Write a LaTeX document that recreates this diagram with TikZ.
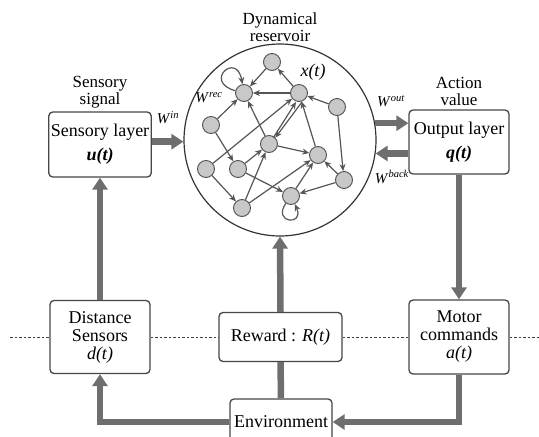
\documentclass[tikz,border=0pt]{standalone}
\usepackage{fontspec}
\setmainfont{Liberation Serif}
\usepackage{tikz}
\usetikzlibrary{arrows.meta,positioning,calc}
\definecolor{boxgray}{RGB}{70,70,70}
\definecolor{fatgray}{RGB}{110,110,110}
\definecolor{unitgray}{RGB}{200,200,200}
\definecolor{unitline}{RGB}{80,80,80}
\definecolor{linkgray}{RGB}{85,85,85}
\newcommand{\bxfont}{\fontsize{18}{18}\selectfont}
\newcommand{\lbfont}{\fontsize{17}{17}\selectfont}
\newcommand{\wtfont}{\fontsize{15}{15}\selectfont}
\tikzset{
  box/.style={rectangle,rounded corners=4pt,draw=boxgray,line width=1.3pt,fill=white,
              align=center,font=\bxfont,inner sep=2pt,minimum width=100pt},
  unit/.style={circle,draw=unitline,fill=unitgray,line width=0.9pt,minimum size=17pt,inner sep=0pt},
  link/.style={-{Stealth[length=7pt,width=6pt]},draw=linkgray,line width=1.2pt},
  fat/.style={-{Triangle[length=12pt,width=15pt]},draw=fatgray,line width=6.5pt},
  fatline/.style={draw=fatgray,line width=6.5pt},
  dots/.style={draw=black!75,line width=1pt,dash pattern=on 2.5pt off 2pt},
  lbl/.style={align=center,font=\lbfont,inner sep=1pt},
  wlbl/.style={font=\wtfont,inner sep=0pt},
}

\begin{document}
\begin{tikzpicture}[x=1pt,y=1pt]
  \clip (0,0) rectangle (539,-437);
  % reservoir
  \node[circle,draw=black!80,line width=1.2pt,minimum size=192pt,inner sep=0pt] (res) at (280,-140) {};
  \node[lbl,above=1pt of res] (reslbl) {Dynamical\\reservoir};
  \node[unit] (r1) at (272,-62) {};
  \node[unit] (r2) at (244,-93) {};
  \node[unit] (r3) at (299,-93) {};
  \node[unit] (r4) at (337,-107) {};
  \node[unit] (r5) at (211,-125) {};
  \node[unit] (r6) at (269,-144) {};
  \node[unit] (r7) at (318,-155) {};
  \node[unit] (r8) at (206,-169) {};
  \node[unit] (r9) at (238,-169) {};
  \node[unit] (r10) at (344,-180) {};
  \node[unit] (r11) at (291,-196) {};
  \node[unit] (r12) at (242,-208) {};
  \node[wlbl,font=\bxfont] (xt) at (313,-72) {\textit{x(t)}};
  \node[wlbl] (wrec) at (209,-98) {\textit{W}\textsuperscript{\textit{rec}}};
  \draw[link] (r1) -- (r2);
  \draw[link] (r2) to[out=165,in=100,looseness=9] (r2);
  \draw[link] (r3) -- (r2);
  \draw[link] (r3) -- (r1);
  \draw[link] (r4) -- (r3);
  \draw[link] (r4) -- (r10);
  \draw[link] (r5) -- (r2);
  \draw[link] (r5) -- (r9);
  \draw[link] (r6) -- (r2);
  \draw[link] ([xshift=-2pt]r6.north east) -- ([xshift=-3pt]r3.south);
  \draw[link] ([xshift=3pt]r3.south) -- (r6.north east);
  \draw[link] (r6) -- (r7);
  \draw[link] (r7) -- (r3);
  \draw[link] (r8) -- (r3);
  \draw[link] (r8) -- (r12);
  \draw[link] (r9) -- (r6);
  \draw[link] (r9) -- (r11);
  \draw[link] (r12) -- (r6);
  \draw[link] (r12) -- (r7);
  \draw[link] (r11) -- (r7);
  \draw[link] (r10) -- (r7);
  \draw[link] (r10) -- (r11);
  \draw[link] (r11) to[out=235,in=295,looseness=7] (r11);
  % layers
  \node[box,minimum height=65pt] (sens) at (100,-144.5) {Sensory layer\\[6pt]\textbf{\textit{u(t)}}};
  \node[lbl,above=2pt of sens] (senslbl) {Sensory\\signal};
  \node[box,minimum height=64pt] (out) at (459,-142) {Output layer\\[6pt]\textbf{\textit{q(t)}}};
  \node[lbl,above=2pt of out] (outlbl) {Action\\value};
  \node[wlbl] (win) at (168,-118) {\textit{W}\textsuperscript{\textit{in}}};
  \node[wlbl] (wout) at (391,-101) {\textit{W}\textsuperscript{\textit{out}}};
  \node[wlbl] (wback) at (392,-177) {\textit{W}\textsuperscript{\textit{back}}};
  % environment loop
  \node[box,minimum height=73pt] (dist) at (100,-337) {Distance\\Sensors\\\textit{d(t)}};
  \node[box,minimum width=123pt,minimum height=49pt] (reward) at (280.5,-337) {Reward : \textit{R(t)}};
  \node[box,minimum height=74pt] (motor) at (459,-337) {Motor\\commands\\\textit{a(t)}};
  \node[box,minimum width=102pt,minimum height=46pt] (env) at (281,-422) {Environment};
  \coordinate (lend) at (10,-337);
  \coordinate (rend) at (539,-337);
  \draw[dots] (lend) -- (dist.west);
  \draw[dots] (dist.east) -- (reward.west);
  \draw[dots] (reward.east) -- (motor.west);
  \draw[dots] (motor.east) -- (rend);
  \draw[fat] (res.181 -| sens.east) -- (res.181);
  \draw[fat] (res.10) -- (res.10 -| out.west);
  \draw[fat] (out.west |- res.-8) -- (res.-8);
  \draw[fat] (dist.north) -- (sens.south);
  \draw[fat] (out.south) -- (motor.north);
  \draw[fat] (reward.north) -- (res.south);
  \draw[fatline] (env.north) -- (reward.south);
  \draw[fat] (motor.south) |- (env.east);
  \draw[fat] (env.west) -| (dist.south);
\end{tikzpicture}
\end{document}
